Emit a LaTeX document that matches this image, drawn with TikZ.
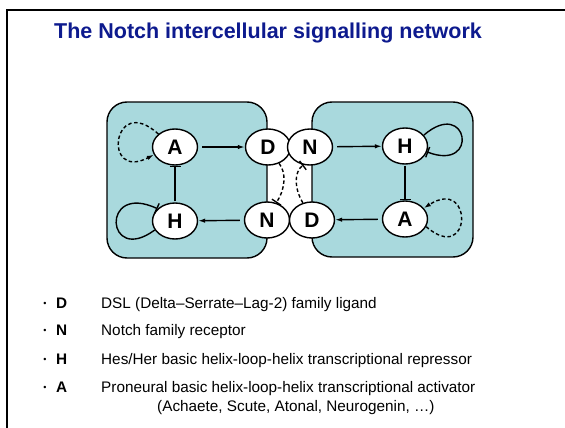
\documentclass[tikz,border=0pt]{standalone}
\usepackage{fontspec}
\setmainfont{Liberation Sans}
\usetikzlibrary{shapes.geometric,arrows.meta}
\definecolor{cellfill}{HTML}{A9D9DD}
\definecolor{titleblue}{HTML}{0D1A8E}
\tikzset{
  cell/.style={draw=black, line width=1.4pt, fill=cellfill, rounded corners=20pt},
  gene/.style={ellipse, draw=black, line width=1.4pt, fill=white, minimum width=45pt, minimum height=36pt, inner sep=0pt, font=\fontsize{21}{21}\selectfont\bfseries},
  act/.style={line width=1.4pt, -{Latex[length=7pt,width=4.5pt]}},
  inh/.style={line width=1.4pt, -{Bar[width=11pt,line width=1.4pt]}},
  dact/.style={act, dash pattern=on 3.5pt off 2.5pt},
  dinh/.style={inh, dash pattern=on 3.5pt off 2.5pt},
  legtext/.style={anchor=base west, inner sep=0pt, font=\fontsize{15.3}{15.3}\selectfont},
  legkey/.style={anchor=base west, inner sep=0pt, font=\fontsize{15.3}{15.3}\selectfont\bfseries},
  legdot/.style={anchor=base, inner sep=0pt, font=\fontsize{9}{9}\selectfont}
}
\begin{document}
\begin{tikzpicture}[x=1pt,y=-1pt]
\useasboundingbox (0,0) rectangle (565,428);
% slide frame
\draw[line width=2pt] (565,10) -- (7,10) -- (7,428);
% title
\node[inner sep=0pt, text=titleblue, font=\fontsize{21.5}{21.5}\selectfont\bfseries] (title) at (268,33) {The Notch intercellular signalling network};
% cells
\draw[cell] (107,102) rectangle (267,258);
\draw[cell] (312,102) rectangle (473,257);
% nodes
\node[gene] (lA) at (175,147) {A};
\node[gene] (lH) at (175,221) {H};
\node[gene] (lD) at (268,147) {D};
\node[gene] (lN) at (267,220) {N};
\node[gene] (rN) at (310,147) {N};
\node[gene] (rD) at (312,220) {D};
\node[gene] (rH) at (405,146) {H};
\node[gene] (rA) at (405,219) {A};
% edges
\draw[act, shorten <=4pt] (lA) -- (lD);
\draw[act, shorten <=4pt] (lN) -- (lH);
\draw[inh, shorten <=1pt] (lH) -- (lA);
\draw[act, shorten <=4pt] (rN) -- (rH);
\draw[inh, shorten <=1pt] (rH) -- (rA);
\draw[act, shorten <=4pt] (rA) -- (rD);
% self loops
\draw[inh] (lH.204) .. controls (106,266) and (100,182) .. (lH.145);
\draw[dact] (lA.142) .. controls (112,92) and (102,182) .. (lA.200);
\draw[inh] (rH.30) .. controls (468,97) and (480,172) .. (rH.-15);
\draw[dact] (rA.-20) .. controls (472,266) and (474,176) .. (rA.30);
% intercellular
\draw[dinh] (lD.-56) .. controls (286,172) and (286,188) .. (lN.62);
\draw[dinh] (rD.118) .. controls (294,188) and (294,172) .. (rN.-110);
% legend
\node[legdot] (b1) at (45,306.5) {•};
\node[legkey] (k1) at (56,308) {D};
\node[legtext] (t1) at (101,308) {DSL (Delta–Serrate–Lag-2) family ligand};
\node[legdot] (b2) at (45,333.5) {•};
\node[legkey] (k2) at (56,335) {N};
\node[legtext] (t2) at (101,335) {Notch family receptor};
\node[legdot] (b3) at (45,362.5) {•};
\node[legkey] (k3) at (56,364) {H};
\node[legtext] (t3) at (101,364) {Hes/Her basic helix-loop-helix transcriptional repressor};
\node[legdot] (b4) at (45,390.5) {•};
\node[legkey] (k4) at (56,392) {A};
\node[legtext] (t4) at (101,392) {Proneural basic helix-loop-helix transcriptional activator};
\node[legtext] (t5) at (157,411) {(Achaete, Scute, Atonal, Neurogenin, …)};
\end{tikzpicture}
\end{document}
